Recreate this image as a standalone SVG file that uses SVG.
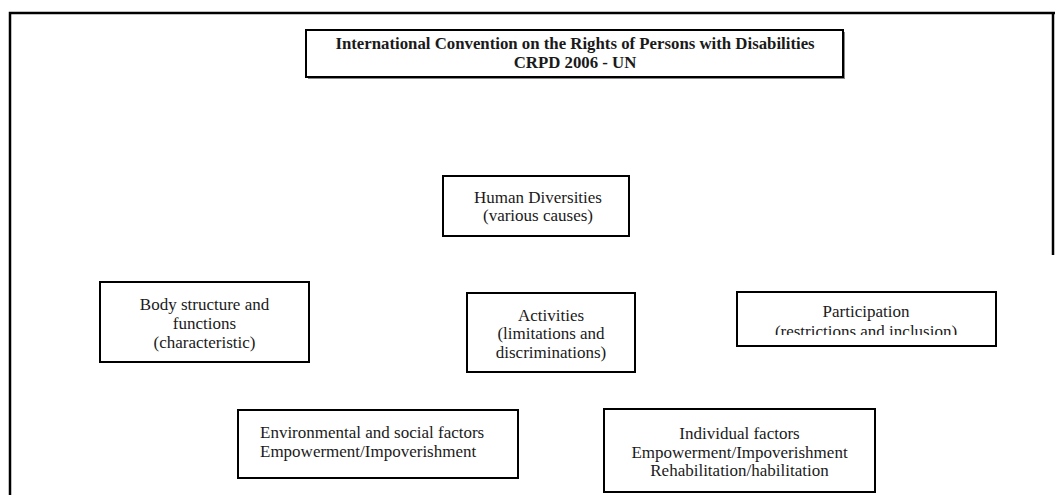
<svg xmlns="http://www.w3.org/2000/svg" width="1055" height="495" viewBox="0 0 1055 495">
<style>
.box{fill:#fff;stroke:#000;stroke-width:2}
.t{font-family:"Liberation Serif","Times New Roman",serif;font-size:17px;fill:#1a1a1a;text-anchor:middle}
.tl{text-anchor:start}
.b{font-weight:bold;font-size:16.8px}
.frame{stroke:#000;stroke-width:2.5;fill:none}
</style>
<defs>
<clipPath id="clipPart"><rect x="737" y="292" width="259" height="43"/></clipPath>
</defs>
<g id="frame">
<path class="frame" d="M10,495 V13 H1055"/>
<path class="frame" d="M1053,13 V255"/>
</g>
<g id="connectors"></g>
<g id="title">
<rect x="308" y="32" width="537" height="47" fill="#888"/>
<rect class="box" x="306" y="30" width="537" height="47"/>
<text class="t b" x="575" y="49">International Convention on the Rights of Persons with Disabilities</text>
<text class="t b" x="575" y="68">CRPD 2006 - UN</text>
</g>
<g id="human">
<rect class="box" x="443" y="176" width="186" height="60"/>
<text class="t" x="538" y="203">Human Diversities</text>
<text class="t" x="538" y="221">(various causes)</text>
</g>
<g id="body">
<rect class="box" x="100" y="282" width="209" height="80"/>
<text class="t" x="204.5" y="310">Body structure and</text>
<text class="t" x="204.5" y="329">functions</text>
<text class="t" x="204.5" y="348">(characteristic)</text>
</g>
<g id="activities">
<rect class="box" x="467" y="293" width="168" height="79"/>
<text class="t" x="551" y="321">Activities</text>
<text class="t" x="551" y="339">(limitations and</text>
<text class="t" x="551" y="358">discriminations)</text>
</g>
<g id="participation">
<rect class="box" x="737" y="292" width="259" height="54"/>
<text class="t" x="866" y="317">Participation</text>
<text class="t" x="866" y="337" clip-path="url(#clipPart)">(restrictions and inclusion)</text>
</g>
<g id="environmental">
<rect class="box" x="238" y="410" width="280" height="68"/>
<text class="t tl" x="260" y="438">Environmental and social factors</text>
<text class="t tl" x="260" y="457">Empowerment/Impoverishment</text>
</g>
<g id="individual">
<rect class="box" x="604" y="409" width="271" height="83"/>
<text class="t" x="739.5" y="439">Individual factors</text>
<text class="t" x="739.5" y="458">Empowerment/Impoverishment</text>
<text class="t" x="739.5" y="476">Rehabilitation/habilitation</text>
</g>
</svg>
